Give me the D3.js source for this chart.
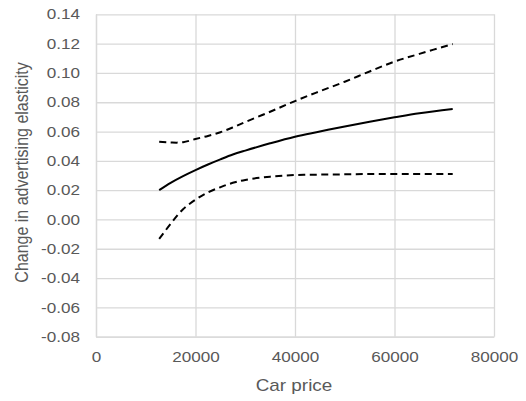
<!DOCTYPE html>
<html>
<head>
<meta charset="utf-8">
<script src="https://cdn.jsdelivr.net/npm/d3@7/dist/d3.min.js"></script>
<style>
body { margin: 0; background: #fff; }
text { font-family: "Liberation Sans", Arial, sans-serif; fill: #595959; }
</style>
</head>
<body>
<svg id="chart" width="526" height="401"></svg>
<script>
// values
var price    = [12700, 15000, 17500, 20000, 22500, 25000, 27500, 30000, 35000, 40000, 45000, 50000, 55000, 60000, 65000, 71700];
var estimate = [0.0200, 0.0250, 0.0296, 0.0337, 0.0375, 0.0410, 0.0443, 0.0470, 0.0520, 0.0565, 0.0600, 0.0635, 0.0667, 0.0697, 0.0725, 0.0754];
var upper    = [0.0530, 0.0525, 0.0527, 0.0549, 0.0570, 0.0595, 0.0628, 0.0665, 0.0735, 0.0808, 0.0875, 0.0940, 0.1010, 0.1077, 0.1130, 0.1197];
var lower    = [-0.0133, -0.0030, 0.0070, 0.0135, 0.0185, 0.0220, 0.0250, 0.0270, 0.0292, 0.0303, 0.0306, 0.0308, 0.0310, 0.0310, 0.0310, 0.0310];
var xTicks = [0, 20000, 40000, 60000, 80000];
var yTicks = [-0.08, -0.06, -0.04, -0.02, 0, 0.02, 0.04, 0.06, 0.08, 0.10, 0.12, 0.14];

var svg = d3.select("#chart");
var plotLeft = 96, plotRight = 494, plotTop = 14.3, plotBottom = 336.7;
var stretch = 1.18;

var x = d3.scaleLinear().domain([0, 80000]).range([plotLeft, plotRight]);
var y = d3.scaleLinear().domain([-0.08, 0.14]).range([plotBottom, plotTop]);

var yAxis = svg.append("g")
    .attr("transform", "translate(" + plotLeft + ",0)")
    .call(d3.axisLeft(y)
        .tickValues(yTicks)
        .tickSize(-(plotRight - plotLeft))
        .tickSizeOuter(0)
        .tickPadding(13.6)
        .tickFormat(function(d) { return d.toFixed(2); }));

var xAxis = svg.append("g")
    .attr("transform", "translate(0," + plotBottom + ")")
    .call(d3.axisBottom(x)
        .tickValues(xTicks)
        .tickSize(-(plotBottom - plotTop))
        .tickSizeOuter(0)
        .tickPadding(15.5)
        .tickFormat(d3.format("d")));

[yAxis, xAxis].forEach(function(ax) {
    ax.select(".domain").attr("stroke", "#d9d9d9").attr("stroke-width", 1.3);
    ax.selectAll(".tick line").attr("stroke", "#d9d9d9").attr("stroke-width", 1.3);
    ax.selectAll(".tick text")
        .style("font-family", "'Liberation Sans', Arial, sans-serif")
        .style("font-size", "14.5px")
        .attr("fill", "#595959")
        .attr("transform", "scale(" + stretch + ",1)");
});

var series = [
    {vals: estimate, dash: null},
    {vals: upper, dash: "7,4.5"},
    {vals: lower, dash: "7,4.5"}
];

var line = d3.line()
    .x(function(d) { return x(d[0]); })
    .y(function(d) { return y(d[1]); })
    .curve(d3.curveCatmullRom.alpha(0.5));

svg.selectAll(".series")
    .data(series)
    .enter()
    .append("path")
    .attr("class", "series")
    .attr("fill", "none")
    .attr("stroke", "#000")
    .attr("stroke-width", 2)
    .attr("stroke-dasharray", function(d) { return d.dash; })
    .attr("d", function(d) { return line(d3.zip(price, d.vals)); });

svg.append("text")
    .attr("transform", "translate(294,390.7) scale(" + stretch + ",1)")
    .attr("text-anchor", "middle")
    .style("font-size", "16px")
    .text("Car price");

svg.append("text")
    .attr("transform", "translate(28,172.5) scale(1.12,1) rotate(-90)")
    .attr("text-anchor", "middle")
    .style("font-size", "16px")
    .text("Change in advertising elasticity");
</script>
</body>
</html>
